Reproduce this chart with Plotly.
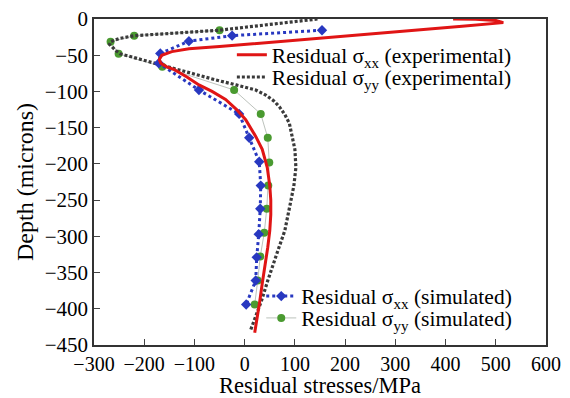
import plotly.graph_objects as go

# Experimental residual sigma_xx (red solid)
red_depth = [0, -0.5, -2, -5, -10, -20, -26, -31, -34, -38, -41, -45, -50, -56, -61, -66, -70, -80, -91, -100, -111, -125, -139, -150, -162, -180, -205, -230, -250, -270, -292, -315, -340, -365, -390, -410, -433]
red_x = [415, 460, 500, 515, 433, 265, 160, 69, 19, -50, -111, -145, -165, -170, -167, -155, -140, -115, -91, -65, -38, -16, 2, 12, 22, 35, 45, 50, 52, 52, 50, 46, 40, 35, 30, 25, 20]

# Experimental residual sigma_yy (black dashed)
blk_depth = [0, -8, -15.5, -20, -23, -27, -31.5, -35, -38, -44, -48, -55, -63.5, -70, -76, -84, -91, -98, -105, -113, -121, -132, -144, -162, -180, -205, -230, -251, -270, -292, -320, -340, -361, -390, -410, -429]
blk_x = [145, 50, -51, -150, -220, -250, -267, -269, -265, -256, -248, -212, -168, -135, -105, -58, -17, 22, 42, 58, 69, 80, 89, 95, 100, 102, 98, 92, 86, 80, 66, 56, 46, 33, 23, 12]

# Simulated residual sigma_xx (blue)
blue_depth = [-15.5, -23, -30.6, -47.6, -61, -98, -131, -164, -197, -230, -262, -297, -329, -361, -394]
blue_x = [154, -25, -111, -168, -171, -91, -11, 9, 29, 32, 31, 28, 24, 22, 3]

# Simulated residual sigma_yy (green)
green_depth = [-15.5, -23, -31.5, -48, -66, -98, -131, -164, -198, -230, -262, -295, -328, -361, -394]
green_x = [-50, -220, -267, -251, -164, -21, 32, 46, 49, 47, 44, 39, 31, 26, 20]

x_ticks = [-300, -200, -100, 0, 100, 200, 300, 400, 500, 600]
y_ticks = [0, -50, -100, -150, -200, -250, -300, -350, -400, -450]

FONT = "Liberation Serif"

fig = go.Figure()

fig.add_trace(go.Scatter(
    x=green_x, y=green_depth, mode="lines+markers",
    name="Residual σ<sub>yy</sub> (simulated)",
    line=dict(color="rgba(160,168,160,0.7)", width=1),
    marker=dict(color="#4a9a30", size=8),
    legend="legend4"))

fig.add_trace(go.Scatter(
    x=blk_x, y=blk_depth, mode="lines",
    name="Residual σ<sub>yy</sub> (experimental)",
    line=dict(color="#3a3a3a", width=3.2, dash="3px,2px"),
    legend="legend2"))

fig.add_trace(go.Scatter(
    x=blue_x, y=blue_depth, mode="lines+markers",
    name="Residual σ<sub>xx</sub> (simulated)",
    line=dict(color="#2838c0", width=3, dash="dot"),
    marker=dict(color="#2838c0", size=8, symbol="diamond"),
    legend="legend3"))

fig.add_trace(go.Scatter(
    x=red_x, y=red_depth, mode="lines",
    name="Residual σ<sub>xx</sub> (experimental)",
    line=dict(color="#e01515", width=3),
    legend="legend"))

leg_common = dict(xanchor="left", yanchor="middle", bgcolor="rgba(0,0,0,0)",
                  font=dict(family=FONT, size=21.5, color="black"))

# page body has an 8px default margin: figure is 562x390 so that it fills the 570x398 window
fig.update_layout(
    width=562, height=390,
    margin=dict(l=86, r=24, t=11, b=53),
    paper_bgcolor="white", plot_bgcolor="white",
    showlegend=True,
    font=dict(family=FONT, size=22, color="black"),
    legend=dict(x=0.305, y=0.890, **leg_common),
    legend2=dict(x=0.305, y=0.822, **leg_common),
    legend3=dict(x=0.370, y=0.150, **leg_common),
    legend4=dict(x=0.370, y=0.083, **leg_common),
)

fig.update_xaxes(
    range=[-300, 600], tickvals=x_ticks, ticks="inside", ticklen=6,
    tickangle=0, automargin=False, ticklabeloverflow="allow",
    showline=True, linecolor="#333", linewidth=1.5, mirror=True,
    showgrid=False, zeroline=False,
    tickfont=dict(family=FONT, size=20),
    title=dict(text="Residual stresses/MPa", font=dict(family=FONT, size=22.5), standoff=1))

fig.update_yaxes(
    range=[-450, 0], tickvals=y_ticks, ticks="inside", ticklen=6,
    automargin=False, ticklabeloverflow="allow",
    showline=True, linecolor="#333", linewidth=1.5, mirror=True,
    showgrid=False, zeroline=False,
    tickfont=dict(family=FONT, size=21),
    title=dict(text="Depth (microns)", font=dict(family=FONT, size=24), standoff=4))

fig.write_html("out.html")
